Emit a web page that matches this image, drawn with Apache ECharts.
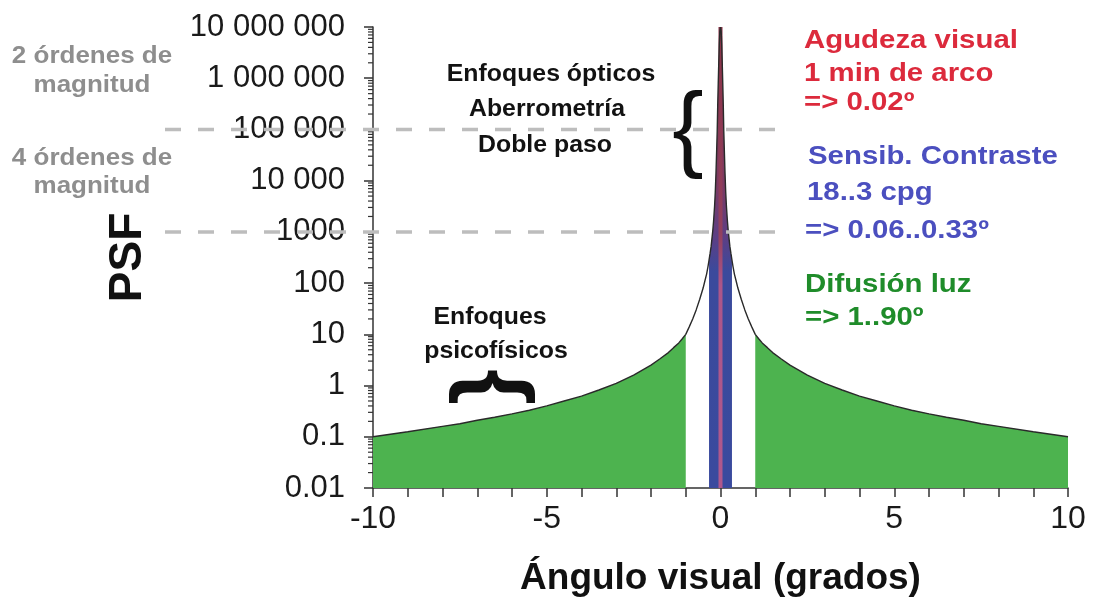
<!DOCTYPE html>
<html>
<head>
<meta charset="utf-8">
<script src="https://cdn.jsdelivr.net/npm/echarts@6/dist/echarts.min.js"></script>
<style>
  html, body { margin: 0; padding: 0; background: #ffffff; }
  #chart { width: 1094px; height: 598px; }
</style>
</head>
<body>
<div id="chart"></div>
<script>
// Point spread function of the eye vs. visual angle (degrees), log PSF scale.
// Right half (angle >= 0); the left half mirrors it.
const halfAngles = [0, 0.02, 0.035, 0.05, 0.065, 0.08, 0.095, 0.11, 0.13, 0.15, 0.17, 0.2,
  0.22, 0.25, 0.27, 0.3, 0.33, 0.36, 0.4, 0.45, 0.5, 0.6, 0.7, 0.8, 0.9,
  1, 1.1, 1.2, 1.35, 1.5, 1.75, 2, 2.25, 2.5, 3, 3.5, 4, 4.5, 5, 5.5, 6, 6.5, 7, 7.5, 8, 9, 10];
const halfPsf = [10000000, 8000000, 4500000, 2000000, 800000, 300000, 90000, 40000, 14000, 6000, 3200, 1600,
  1100, 700, 520, 380, 280, 210, 150, 110, 80, 48, 30, 20, 14,
  10, 8.2, 6.8, 5.5, 4.4, 3.3, 2.5, 2.0, 1.6, 1.1, 0.82, 0.62, 0.5, 0.4, 0.33, 0.28, 0.24, 0.21, 0.18, 0.16, 0.125, 0.1];

// Angular ranges of each method (degrees)
const acuityAngle = 0.02;          // 1 min de arco
const contrastRange = [0.06, 0.33]; // 18..3 cpg
const scatterRange = [1, 90];       // difusión de luz

// Reference PSF levels marked with dashed lines
const guideLevels = [100000, 1000];

// Tick labels
const xTickValues = [-10, -5, 0, 5, 10];
const xTickLabels = ['-10', '-5', '0', '5', '10'];
const yTickLabels = ['0.01', '0.1', '1', '10', '100', '1000', '10 000', '100 000', '1 000 000', '10 000 000'];

const FONT = 'Liberation Sans, Arial, Helvetica, sans-serif';
const AXIS = '#333333';

// symmetric profile from -10 to 10
const rightHalf = halfAngles.map((a, i) => [a, halfPsf[i]]);
const leftHalf = rightHalf.slice(1).map(p => [-p[0], p[1]]).reverse();
const points = leftHalf.concat(rightHalf);
const leftWing = points.filter(p => p[0] <= -scatterRange[0]);
const rightWing = points.filter(p => p[0] >= scatterRange[0]);
const contrastBand = points.filter(p => Math.abs(p[0]) <= contrastRange[1]);
const peakValue = halfPsf[0];

const chart = echarts.init(document.getElementById('chart'), null, { renderer: 'canvas' });

const greenArea = {
  type: 'line', symbol: 'none', silent: true, z: 2,
  lineStyle: { width: 0 },
  areaStyle: { color: '#4db34f', opacity: 1 }
};

const option = {
  animation: false,
  backgroundColor: '#ffffff',
  grid: { left: 373, right: 26, top: 27, bottom: 110, outerBoundsMode: 'none' },
  xAxis: {
    type: 'value', min: -10, max: 10, interval: 1,
    axisLine: { onZero: false, lineStyle: { color: AXIS, width: 1.5 } },
    axisTick: { length: 9, lineStyle: { color: AXIS, width: 1.5 } },
    splitLine: { show: false },
    axisLabel: {
      formatter: v => { const k = xTickValues.indexOf(v); return k < 0 ? '' : xTickLabels[k]; },
      fontFamily: FONT, fontSize: 32, color: '#1a1a1a', margin: 15
    },
    name: 'Ángulo visual (grados)', nameLocation: 'middle', nameGap: 91,
    nameTextStyle: { fontFamily: FONT, fontWeight: 'bold', fontSize: 37, color: '#111111',
      align: 'center', verticalAlign: 'middle' }
  },
  yAxis: {
    type: 'log', logBase: 10, min: 0.01, max: 10000000, splitNumber: 9,
    axisLine: { show: true, onZero: false, lineStyle: { color: AXIS, width: 1.5 } },
    axisTick: { length: 9, lineStyle: { color: AXIS, width: 1.5 } },
    splitLine: { show: false },
    axisLabel: {
      formatter: v => yTickLabels[Math.round(Math.log10(v)) + 2] || '',
      fontFamily: FONT, fontSize: 31, color: '#1a1a1a', margin: 28
    },
    name: 'PSF', nameLocation: 'middle', nameGap: 245, nameRotate: 90,
    nameTextStyle: { fontFamily: FONT, fontWeight: 'bold', fontSize: 46, color: '#111111',
      align: 'center', verticalAlign: 'middle' }
  },
  series: [
    Object.assign({ name: 'Difusión izq', data: leftWing }, greenArea),
    Object.assign({ name: 'Difusión der', data: rightWing }, greenArea),
    {
      name: 'Sensibilidad al contraste', type: 'line', symbol: 'none', silent: true, z: 3,
      data: contrastBand,
      lineStyle: { width: 0 },
      areaStyle: {
        opacity: 1,
        color: new echarts.graphic.LinearGradient(0, 0, 0, 1, [
          { offset: 0, color: '#86354c' },
          { offset: 0.34, color: '#7c3a62' },
          { offset: 0.46, color: '#5b3f86' },
          { offset: 0.53, color: '#3b4a9c' },
          { offset: 1, color: '#3a4a9e' }
        ])
      }
    },
    {
      name: 'Agudeza visual', type: 'line', symbol: 'none', silent: true, z: 4,
      data: [[0, 0.01], [0, peakValue]],
      lineStyle: {
        width: 4,
        color: new echarts.graphic.LinearGradient(0, 0, 0, 1, [
          { offset: 0, color: '#8a3348' },
          { offset: 0.45, color: '#92405e' },
          { offset: 0.56, color: '#ad5689' },
          { offset: 1, color: '#b0588c' }
        ])
      }
    },
    {
      name: 'PSF', type: 'line', symbol: 'none', silent: true, z: 5,
      data: points,
      lineStyle: { color: '#2a2a2a', width: 1.4 }
    }
  ]
};

chart.setOption(option);

// Overlays placed through the axes' own scales
const toPx = (x, y) => chart.convertToPixel({ xAxisIndex: 0, yAxisIndex: 0 }, [x, y]);
const axisX = toPx(-10, 1)[0];
const elements = [];

// minor log ticks (2..9 in each decade)
for (let k = -2; k < 7; k++) {
  for (let m = 2; m <= 9; m++) {
    const y = toPx(0, m * Math.pow(10, k))[1];
    elements.push({ type: 'line', silent: true, z: 20,
      shape: { x1: axisX - 5, y1: y, x2: axisX, y2: y },
      style: { stroke: AXIS, lineWidth: 1.2 } });
  }
}

// dashed guide lines
guideLevels.forEach(level => {
  const y = toPx(0, level)[1];
  elements.push({ type: 'line', silent: true, z: 30,
    shape: { x1: 165, y1: y, x2: 790, y2: y },
    style: { stroke: '#bdbdbd', lineWidth: 3.5, lineDash: [16, 17] } });
});

function label(text, x, y, color, size, scaleX, align) {
  elements.push({ type: 'text', silent: true, z: 40, x: x, y: y, scaleX: scaleX,
    style: { text: text, fill: color, font: 'bold ' + size + 'px ' + FONT,
      align: align || 'center', verticalAlign: 'middle' } });
}

const GRAY = '#8e8e8e', DARK = '#121212', RED = '#dc2a3c', BLUE = '#4b4fbf', GREEN = '#1f8c2a';

label('2 órdenes de', 92, 57, GRAY, 23, 1.13);
label('magnitud', 92, 86, GRAY, 23, 1.13);
label('4 órdenes de', 92, 159, GRAY, 23, 1.13);
label('magnitud', 92, 187, GRAY, 23, 1.13);

label('Enfoques ópticos', 551, 75, DARK, 23, 1.08);
label('Aberrometría', 547, 110, DARK, 23, 1.08);
label('Doble paso', 545, 146, DARK, 23, 1.08);
label('Enfoques', 490, 318, DARK, 23, 1.08);
label('psicofísicos', 496, 352, DARK, 23, 1.08);

label('Agudeza visual', 804, 41, RED, 26, 1.13, 'left');
label('1 min de arco', 804, 74, RED, 26, 1.13, 'left');
label('=> 0.02º', 804, 103, RED, 26, 1.13, 'left');
label('Sensib. Contraste', 808, 157, BLUE, 26, 1.13, 'left');
label('18..3 cpg', 807, 193, BLUE, 26, 1.13, 'left');
label('=> 0.06..0.33º', 805, 231, BLUE, 26, 1.13, 'left');
label('Difusión luz', 805, 285, GREEN, 26, 1.13, 'left');
label('=> 1..90º', 805, 318, GREEN, 26, 1.13, 'left');

// braces
elements.push({ type: 'text', silent: true, z: 40, x: 688, y: 133,
  style: { text: '{', fill: '#111', font: '94px ' + FONT, align: 'center', verticalAlign: 'middle' } });
elements.push({ type: 'text', silent: true, z: 40, x: 493, y: 387, rotation: -Math.PI / 2,
  style: { text: '{', fill: '#111', font: 'bold 92px ' + FONT, align: 'center', verticalAlign: 'middle' } });

chart.setOption({ graphic: { elements: elements } });
</script>
</body>
</html>
